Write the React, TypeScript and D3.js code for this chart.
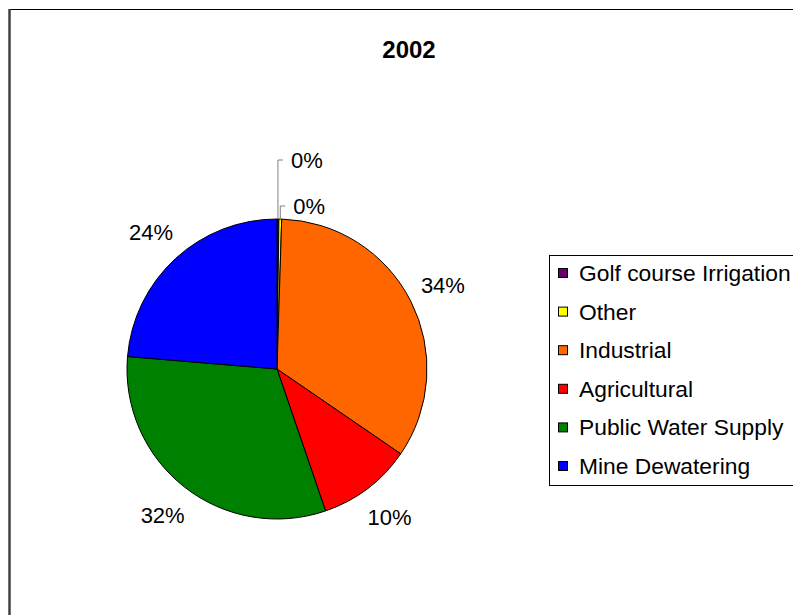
import React from 'react';
import * as d3 from 'd3';

// data
const categories = ['Golf course Irrigation', 'Other', 'Industrial', 'Agricultural', 'Public Water Supply', 'Mine Dewatering'];
const values = [0.2, 0.3, 34.1, 10.2, 31.6, 23.7];
const colors = ['#660066', '#ffff00', '#ff6600', '#ff0000', '#008000', '#0000ff'];
const title = '2002';

const W = 793;
const H = 615;
const FONT = 'Liberation Sans, Arial, sans-serif';

export default function App() {
  const cx = 277;
  const cy = 369;
  const r = 150;
  const labelR = 186;

  const total = d3.sum(values);
  const slices = d3.pie<number>().sort(null).value(d => d)(values);
  const arc = d3.arc<d3.PieArcDatum<number>>().innerRadius(0).outerRadius(r);

  const pct = (v: number) => `${Math.round((v / total) * 100)}%`;

  // tiny slices get leader lines up top, like Excel does
  const leaderOffsets = [59, 13];

  // legend layout
  const legendX = 549;
  const legendY = 255;
  const rowY = d3.scalePoint<string>().domain(categories).range([273, 466]);

  return (
    <svg width={W} height={H} style={{ position: 'absolute', left: 0, top: 0, background: '#fff' }}>
      {/* chart area frame */}
      <line x1={9.5} y1={9.5} x2={W + 5} y2={9.5} stroke="#000" strokeWidth={1} />
      <line x1={9.5} y1={9} x2={9.5} y2={H + 5} stroke="#404040" strokeWidth={2.5} />

      <text x={409} y={58} textAnchor="middle" fontFamily={FONT} fontWeight="bold" fontSize={24}>
        {title}
      </text>

      <g transform={`translate(${cx},${cy})`}>
        {slices.map((s, i) => (
          <path key={i} d={arc(s) || ''} fill={colors[i]} stroke="#000" strokeWidth={1} />
        ))}

        {slices.map((s, i) => {
          const mid = (s.startAngle + s.endAngle) / 2;
          if (i < leaderOffsets.length) {
            const px = r * Math.sin(mid);
            const py = -r * Math.cos(mid);
            const ly = py - leaderOffsets[i];
            return (
              <g key={i}>
                <polyline
                  points={`${px},${py} ${px},${ly} ${px + 5},${ly}`}
                  fill="none"
                  stroke="#808080"
                  strokeWidth={1}
                />
                <text x={px + 13} y={ly} dy="0.35em" fontFamily={FONT} fontSize={22}>
                  {pct(s.value)}
                </text>
              </g>
            );
          }
          const x = labelR * Math.sin(mid);
          const y = -labelR * Math.cos(mid);
          return (
            <text key={i} x={x} y={y} dy="0.35em" textAnchor="middle" fontFamily={FONT} fontSize={22}>
              {pct(s.value)}
            </text>
          );
        })}
      </g>

      {/* legend */}
      <rect x={legendX + 0.5} y={legendY + 0.5} width={300} height={230} fill="#fff" stroke="#000" strokeWidth={1} />
      {categories.map((c, i) => {
        const y = rowY(c) as number;
        return (
          <g key={c}>
            <rect x={558.5} y={y - 4.5} width={9} height={9} fill={colors[i]} stroke="#000" strokeWidth={1} />
            <text x={579} y={y} dy="0.35em" fontFamily={FONT} fontSize={22.8}>
              {c}
            </text>
          </g>
        );
      })}
    </svg>
  );
}
